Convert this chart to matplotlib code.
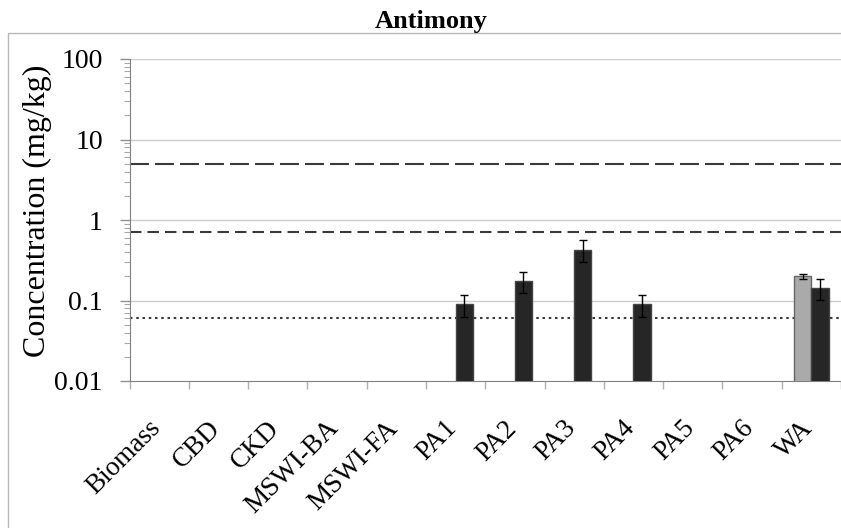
import numpy as np
import matplotlib
matplotlib.use("Agg")
import matplotlib.pyplot as plt
import matplotlib.transforms as mtransforms
from matplotlib.patches import Rectangle

plt.rcParams['font.family'] = ['Liberation Serif', 'DejaVu Serif']

categories = ["Biomass", "CBD", "CKD", "MSWI-BA", "MSWI-FA", "PA1", "PA2",
              "PA3", "PA4", "PA5", "PA6", "WA"]
nan = np.nan
series_light = [nan, nan, nan, nan, nan, nan, nan, nan, nan, nan, nan, 0.20]
series_light_err = [nan, nan, nan, nan, nan, nan, nan, nan, nan, nan, nan, 0.015]
series_dark = [nan, nan, nan, nan, nan, 0.09, 0.175, 0.43, 0.09, nan, nan, 0.143]
series_dark_err = [nan, nan, nan, nan, nan, 0.027, 0.05, 0.13, 0.027, nan, nan, 0.042]
limits = [5.0, 0.7, 0.06]
limit_styles = [(0, (9.1, 2.9)), (0, (5.5, 2.9)), (0, (1.2, 1.8))]

W, H = 841, 528
fig = plt.figure(figsize=(W / 100, H / 100), dpi=100)
# outer chart frame
fig.patches.append(Rectangle((8 / W, -0.1), 1.2, 1.1 - 33 / H,
                             transform=fig.transFigure, fill=False,
                             edgecolor='#b8b8b8', linewidth=1.0))
ax = fig.add_axes([129.5 / W, 1 - 381 / H, 1 - 129.5 / W, (381 - 59) / H])

x = np.arange(len(categories))
w = 0.29
ax.set_yscale('log')
ax.set_ylim(0.01, 100)
ax.set_xlim(-0.5, len(categories) - 0.5)

for yv in [0.1, 1, 10, 100]:
    ax.axhline(yv, color='#cccccc', linewidth=1.0, zorder=0)

ax.bar(x - w / 2, series_light, width=w, color='#aaaaaa', edgecolor='#666666',
       linewidth=1.0, zorder=3)
ax.errorbar(x - w / 2, series_light, yerr=series_light_err, fmt='none',
            ecolor='black', elinewidth=1.0, capsize=2.6, capthick=1.0, zorder=4)
ax.bar(x + w / 2, series_dark, width=w, color='#262626', edgecolor='#444444',
       linewidth=1.0, zorder=3)
ax.errorbar(x + w / 2, series_dark, yerr=series_dark_err, fmt='none',
            ecolor='black', elinewidth=1.0, capsize=2.6, capthick=1.0, zorder=4)

for lv, ls in zip(limits, limit_styles):
    ax.axhline(lv, color='#3a3a3a', linewidth=1.5, linestyle=ls, zorder=2)

ax.set_yticks([0.01, 0.1, 1, 10, 100])
ax.set_yticklabels(["0.01", "0.1", "1", "10", "100"], fontsize=20)
ax.tick_params(axis='y', which='major', length=7.2, color='#909090', width=1.0, pad=12)
ax.tick_params(axis='y', which='minor', length=4.3, color='#a8a8a8', width=0.8)

ax.set_xticks(x)
ax.set_xticklabels(categories, rotation=45, ha='right', rotation_mode='anchor',
                   fontsize=19.5)
ax.tick_params(axis='x', which='major', length=0, pad=25)
offset = mtransforms.ScaledTranslation(-11 / 100, 0, fig.dpi_scale_trans)
for lab in ax.get_xticklabels():
    lab.set_transform(lab.get_transform() + offset)
ax.set_xticks(np.arange(-0.5, len(categories), 1.0), minor=True)
ax.tick_params(axis='x', which='minor', length=6, color='#b0b0b0', width=1.0)

for s in ['top', 'right']:
    ax.spines[s].set_visible(False)
ax.spines['left'].set_color('#808080')
ax.spines['bottom'].set_color('#808080')

fig.text(37 / W, 1 - 211 / H, "Concentration (mg/kg)", rotation=90,
         ha='center', va='center', fontsize=23)
fig.text(431 / W, 1 - 28 / H, "Antimony", ha='center', va='baseline',
         fontsize=19, fontweight='bold')

fig.savefig("out.png", dpi=100)
